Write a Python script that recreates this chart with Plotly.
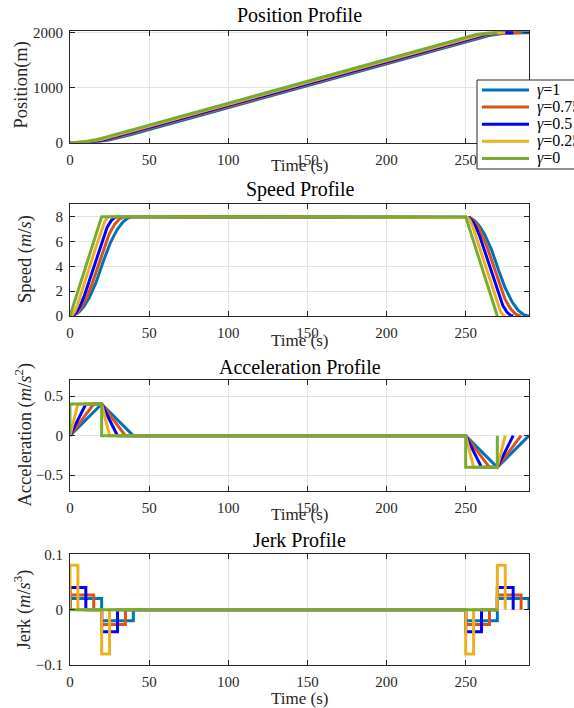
import numpy as np
import plotly.graph_objects as go
from plotly.subplots import make_subplots

# ---- profile data -------------------------------------------------------
LABELS = ["<i>γ</i>=1", "<i>γ</i>=0.75", "<i>γ</i>=0.5", "<i>γ</i>=0.25", "<i>γ</i>=0"]
COLORS = ["#0072BD", "#D95319", "#0000FF", "#EDB120", "#77AC30"]

# acceleration breakpoint times (s) of each profile
T_KNOTS = [
    [0, 20, 20, 40, 250, 270, 270, 290],
    [0, 15, 20, 35, 250, 265, 270, 285],
    [0, 10, 20, 30, 250, 260, 270, 280],
    [0, 5, 20, 25, 250, 255, 270, 275],
    [0, 0, 20, 20, 250, 250, 270, 270],
]
# acceleration values (m/s^2) at those breakpoints
A_KNOTS = [0, 0.4, 0.4, 0, 0, -0.4, -0.4, 0]

X_TICKS = [0, 50, 100, 150, 200, 250]
Y_TICKS = [[0, 1000, 2000], [0, 2, 4, 6, 8], [-0.5, 0, 0.5], [-0.1, 0, 0.1]]
Y_RANGES = [[0, 2030], [0, 9], [-0.7, 0.7], [-0.1, 0.1]]
TITLES = ["Position Profile", "Speed Profile", "Acceleration Profile", "Jerk Profile"]
Y_TITLES = ["Position(m)", "Speed (<i>m</i>/<i>s</i>)",
            "Acceleration (<i>m</i>/<i>s</i><sup>2</sup>)",
            "Jerk (<i>m</i>/<i>s</i><sup>3</sup>)"]
X_TITLE = "Time (s)"


def kinematics(tk, ak, n=60):
    """Integrate the piecewise-linear acceleration into speed/position and
    build the piecewise-constant jerk."""
    ts, vs, ps = [0.0], [0.0], [0.0]
    jt, jv = [tk[0]], [0.0]
    v = p = 0.0
    for i in range(len(tk) - 1):
        t0, t1, a0, a1 = tk[i], tk[i + 1], ak[i], ak[i + 1]
        d = t1 - t0
        if d <= 0:
            continue
        j = (a1 - a0) / d
        s = np.linspace(0, d, n)[1:]
        vseg = v + a0 * s + 0.5 * j * s ** 2
        pseg = p + v * s + 0.5 * a0 * s ** 2 + j * s ** 3 / 6
        ts.extend(t0 + s)
        vs.extend(vseg)
        ps.extend(pseg)
        v, p = vseg[-1], pseg[-1]
        jt += [t0, t1]
        jv += [j, j]
    jt.append(tk[-1])
    jv.append(0.0)
    return ts, ps, vs, jt, jv


# ---- figure ---------------------------------------------------------------
W, H = 574, 708
FONT = "Liberation Serif"
AX = "#262626"

fig = make_subplots(rows=4, cols=1)

for k in range(5):
    ts, ps, vs, jt, jv = kinematics(T_KNOTS[k], A_KNOTS)
    style = dict(color=COLORS[k], width=3)
    fig.add_trace(go.Scatter(x=ts, y=ps, mode="lines", line=style, name=LABELS[k]), 1, 1)
    fig.add_trace(go.Scatter(x=ts, y=vs, mode="lines", line=style, name=LABELS[k]), 2, 1)
    fig.add_trace(go.Scatter(x=T_KNOTS[k], y=A_KNOTS, mode="lines", line=style, name=LABELS[k]), 3, 1)
    fig.add_trace(go.Scatter(x=jt, y=jv, mode="lines", line=style, name=LABELS[k]), 4, 1)

# axes boxes in pixels: (top, bottom)
BOX_X = (70, 529)
BOX_Y = [(31, 142.7), (204.3, 316), (380.3, 491), (554.3, 665)]

def py(px):
    return 1 - px / H

def pxx(px):
    return px / W

axis_common = dict(
    ticks="inside", ticklen=5, tickcolor=AX, showline=True, linecolor=AX,
    linewidth=1, mirror="ticks", showgrid=True, gridcolor="#E4E4E4",
    gridwidth=1, zeroline=False, automargin=False,
    tickfont=dict(family=FONT, size=15, color=AX),
)

for i in range(4):
    top, bot = BOX_Y[i]
    fig.update_xaxes(row=i + 1, col=1, range=[0, 290], tickvals=X_TICKS,
                     domain=[pxx(BOX_X[0]), pxx(BOX_X[1])],
                     ticklabelstandoff=3, **axis_common)
    fig.update_yaxes(row=i + 1, col=1, range=Y_RANGES[i], tickvals=Y_TICKS[i],
                     domain=[py(bot), py(top)], ticklabelstandoff=3, **axis_common)

annotations = []
TITLE_Y = [15, 189.5, 366.5, 539.5]
XLAB_Y = [165, 340, 514, 698]
YLAB_X = [21.5, 25, 23.5, 22.5]
YLAB_Y = [85, 259, 435, 610]
cx = (BOX_X[0] + BOX_X[1]) / 2
for i in range(4):
    annotations.append(dict(text=TITLES[i], x=pxx(cx), y=py(TITLE_Y[i]),
                            xref="paper", yref="paper", showarrow=False,
                            xanchor="center", yanchor="middle",
                            font=dict(family=FONT, size=20, color="#000")))
    annotations.append(dict(text=X_TITLE, x=pxx(cx), y=py(XLAB_Y[i]),
                            xref="paper", yref="paper", showarrow=False,
                            xanchor="center", yanchor="middle",
                            font=dict(family=FONT, size=17, color=AX)))
    annotations.append(dict(text=Y_TITLES[i], x=pxx(YLAB_X[i]), y=py(YLAB_Y[i]),
                            xref="paper", yref="paper", showarrow=False,
                            textangle=-90, xanchor="center", yanchor="middle",
                            font=dict(family=FONT, size=18.5, color=AX)))

# legend box on the position axes
shapes = [dict(type="rect", xref="paper", yref="paper",
               x0=pxx(477), x1=pxx(620), y0=py(169), y1=py(80),
               line=dict(color=AX, width=1), fillcolor="white", layer="above")]
LEG_Y = [90, 107.1, 124.2, 141.3, 158.4]
for k in range(5):
    shapes.append(dict(type="line", xref="paper", yref="paper",
                       x0=pxx(482), x1=pxx(529), y0=py(LEG_Y[k]), y1=py(LEG_Y[k]),
                       line=dict(color=COLORS[k], width=3), layer="above"))
    annotations.append(dict(text=LABELS[k], x=pxx(535), y=py(LEG_Y[k]),
                            xref="paper", yref="paper", showarrow=False,
                            xanchor="left", yanchor="middle",
                            font=dict(family=FONT, size=16, color="#000")))

fig.update_layout(
    width=W, height=H, margin=dict(l=0, r=0, t=0, b=0),
    paper_bgcolor="white", plot_bgcolor="white", showlegend=False,
    annotations=annotations, shapes=shapes,
)

fig.write_html("out.html")
